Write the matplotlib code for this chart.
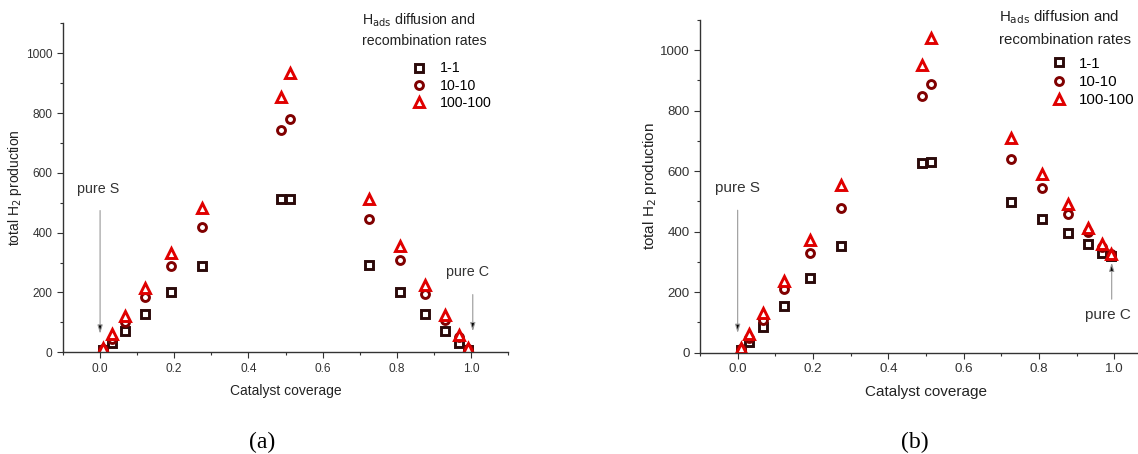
import matplotlib
matplotlib.use("Agg")
import matplotlib.pyplot as plt
from matplotlib.ticker import MultipleLocator, FormatStrFormatter

plt.rcParams['font.family'] = ['Liberation Sans', 'DejaVu Sans']

# Catalyst coverage values (shared by both panels)
coverage = [0.008, 0.031, 0.068, 0.122, 0.192, 0.275, 0.489, 0.512,
            0.725, 0.808, 0.877, 0.930, 0.968, 0.992]

series_labels = ["1-1", "10-10", "100-100"]

# Panel (a): total H2 production
a_1_1 = [8, 31, 71, 129, 202, 289, 514, 512, 292, 203, 129, 71, 31, 8]
a_10_10 = [11, 45, 100, 185, 290, 419, 744, 780, 445, 308, 194, 109, 50, 12]
a_100_100 = [14, 62, 123, 215, 332, 483, 853, 933, 512, 355, 226, 126, 58, 14]

# Panel (b): total H2 production
b_1_1 = [8, 36, 86, 156, 246, 354, 628, 631, 497, 441, 395, 359, 331, 319]
b_10_10 = [12, 50, 108, 210, 331, 479, 848, 889, 642, 543, 459, 398, 350, 326]
b_100_100 = [14, 61, 130, 237, 372, 553, 950, 1041, 711, 592, 493, 412, 359, 326]

colors = ["#2b0a0a", "#800000", "#e00000"]
markers = ["s", "o", "^"]
marker_sizes = {"s": 5.6, "o": 5.7, "^": 7.4}

W, H = 1138, 454
fig = plt.figure(figsize=(W / 100, H / 100), dpi=100)
ax_a = fig.add_axes([63 / W, 1 - 352.3 / H, 445 / W, 329 / H])
ax_b = fig.add_axes([700 / W, 1 - 352.7 / H, 452 / W, 332.7 / H])


def draw_panel(ax, series, tick_fs, label_fs, xpad, ypad):
    handles = []
    for vals, c, m, lab in zip(series, colors, markers, series_labels):
        h, = ax.plot(coverage, vals, linestyle="none", marker=m,
                     ms=marker_sizes[m], mfc="white", mec=c, mew=2.1, label=lab)
        handles.append(h)
    ax.set_xlim(-0.1, 1.1)
    ax.set_ylim(0, 1100)
    ax.spines["top"].set_visible(False)
    ax.spines["right"].set_visible(False)
    for s in ("left", "bottom"):
        ax.spines[s].set_color("#333333")
        ax.spines[s].set_linewidth(1.0)
    ax.xaxis.set_major_locator(MultipleLocator(0.2))
    ax.xaxis.set_minor_locator(MultipleLocator(0.1))
    ax.xaxis.set_major_formatter(FormatStrFormatter("%.1f"))
    ax.yaxis.set_minor_locator(MultipleLocator(100))
    ax.set_yticks([0, 200, 400, 600, 800, 1000])
    ax.tick_params(which="major", length=4, width=0.8, color="#333333",
                   labelsize=tick_fs, labelcolor="#333333")
    ax.tick_params(which="minor", length=2.5, width=0.8, color="#333333")
    ax.set_xlabel("Catalyst coverage", fontsize=label_fs, color="#222222",
                  labelpad=xpad)
    ax.set_ylabel("total H$_2$ production", fontsize=label_fs, color="#222222",
                  labelpad=ypad)
    return handles


def arrow(ax, xy, xytext):
    ax.annotate("", xy=xy, xytext=xytext,
                arrowprops=dict(arrowstyle="-|>,head_length=0.5,head_width=0.15",
                                lw=0.8, ec="#999999", fc="black",
                                shrinkA=0, shrinkB=0))


def legend_block(ax, handles, x_title, y_line1, y_line2, x_anchor, y_anchor,
                 fs, spacing, pad):
    fig.text(x_title / W, 1 - y_line1 / H, "H$_{\\rm ads}$ diffusion and",
             fontsize=fs, color="#222222", ha="left", va="center")
    fig.text(x_title / W, 1 - y_line2 / H, "recombination rates",
             fontsize=fs, color="#222222", ha="left", va="center")
    ax.legend(handles=handles, loc="upper left",
              bbox_to_anchor=(x_anchor / W, 1 - y_anchor / H),
              bbox_transform=fig.transFigure, frameon=False, fontsize=fs,
              borderpad=0, borderaxespad=0, handlelength=1.0,
              handletextpad=pad, labelspacing=spacing)


# Panel (a)
ha = draw_panel(ax_a, [a_1_1, a_10_10, a_100_100], 8.6, 10.0, 7, 1.2)
ax_a.text(-0.006, 545, "pure S", fontsize=10.3, color="#333333",
          ha="center", va="center")
arrow(ax_a, (0.0, 62), (0.0, 474))
ax_a.text(0.99, 270, "pure C", fontsize=10.3, color="#333333",
          ha="center", va="center")
arrow(ax_a, (1.005, 70), (1.005, 193))
legend_block(ax_a, ha, 362, 20, 41, 412, 61.5, 10.2, 0.22, 0.96)
fig.text(262 / W, 1 - 442 / H, "(a)", fontsize=17, family="Liberation Serif",
         ha="center", va="center")

# Panel (b)
hb = draw_panel(ax_b, [b_1_1, b_10_10, b_100_100], 9.6, 11.0, 7, 0.6)
ax_b.text(0.0, 545, "pure S", fontsize=11, color="#333333",
          ha="center", va="center")
arrow(ax_b, (0.0, 65), (0.0, 471))
ax_b.text(0.982, 124, "pure C", fontsize=11, color="#333333",
          ha="center", va="center")
arrow(ax_b, (0.993, 298), (0.993, 177))
legend_block(ax_b, hb, 999, 17.5, 40, 1051, 56.5, 10.8, 0.3, 0.85)
fig.text(915 / W, 1 - 442 / H, "(b)", fontsize=17, family="Liberation Serif",
         ha="center", va="center")

fig.savefig("out.png", dpi=100)
